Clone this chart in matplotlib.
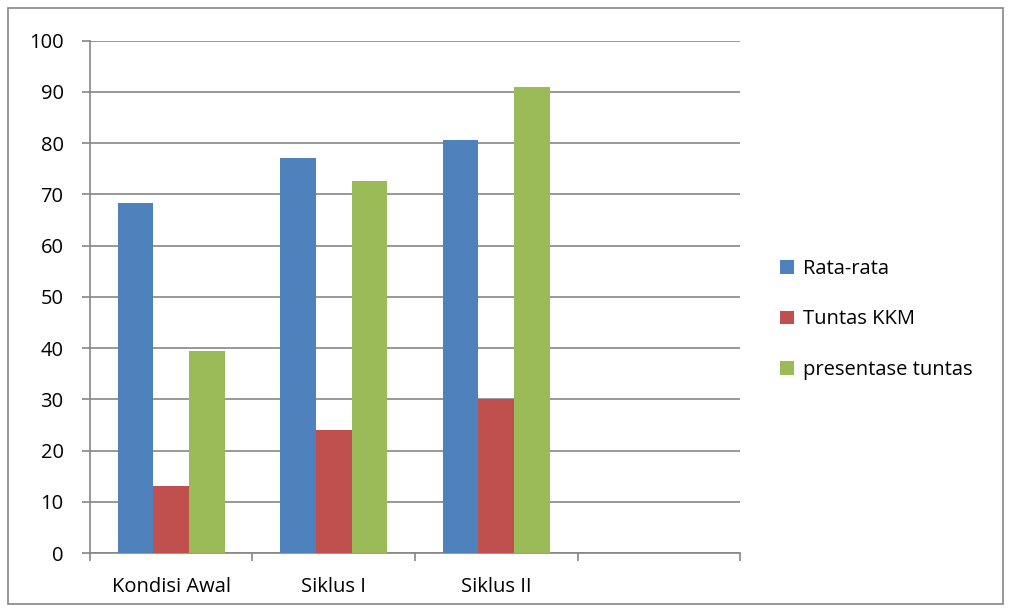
import matplotlib.pyplot as plt
import matplotlib.patches as mpatches
import numpy as np

# data
categories = ['Kondisi Awal', 'Siklus I', 'Siklus II', '']
rata_rata = [68.3, 77.1, 80.7]
tuntas_kkm = [13, 24, 30]
presentase = [39.4, 72.7, 90.9]
series_names = ['Rata-rata', 'Tuntas KKM', 'presentase tuntas']
colors = ['#4f81bd', '#c0504d', '#9bbb59']

plt.rcParams['font.family'] = ['Open Sans', 'DejaVu Sans']

fig = plt.figure(figsize=(10.11, 6.12), dpi=100)
ax = fig.add_axes([0.089, 0.0964, 0.643, 0.837])

# outer chart border
fig.patches.append(mpatches.Rectangle((8 / 1011, 8 / 612), 995 / 1011, 596 / 612,
                                      transform=fig.transFigure, fill=False,
                                      edgecolor='#868686', linewidth=1.2))

x = np.arange(3)
w = 0.22
for i, vals in enumerate([rata_rata, tuntas_kkm, presentase]):
    ax.bar(x + (i - 1) * w, vals, width=w, color=colors[i], label=series_names[i], zorder=3)

ax.set_xlim(-0.5, 3.5)
ax.set_ylim(0, 100)
ax.set_yticks(np.arange(0, 101, 10))
ax.yaxis.grid(True, color='#868686', linewidth=1.2, zorder=0)

# category labels in the middle, ticks at the boundaries
ax.set_xticks(np.arange(-0.5, 3.6, 1))
ax.set_xticklabels([])
ax.set_xticks(np.arange(4), minor=True)
ax.set_xticklabels(categories, minor=True)
ax.tick_params(axis='x', which='minor', length=0, pad=17, labelsize=14.5)
ax.tick_params(axis='x', which='major', length=6, color='#868686', width=1.2, direction='out')
ax.tick_params(axis='y', length=6, color='#868686', width=1.2, labelsize=14.5, pad=13)

for s in ['top', 'right']:
    ax.spines[s].set_visible(False)
for s in ['left', 'bottom']:
    ax.spines[s].set_color('#868686')
    ax.spines[s].set_linewidth(1.2)

fig.legend(loc='center left', bbox_to_anchor=(0.754, 0.478), frameon=False,
           fontsize=14.5, handlelength=0.65, handleheight=0.65, handletextpad=0.45,
           labelspacing=1.52)

fig.savefig('out.png', dpi=100)
